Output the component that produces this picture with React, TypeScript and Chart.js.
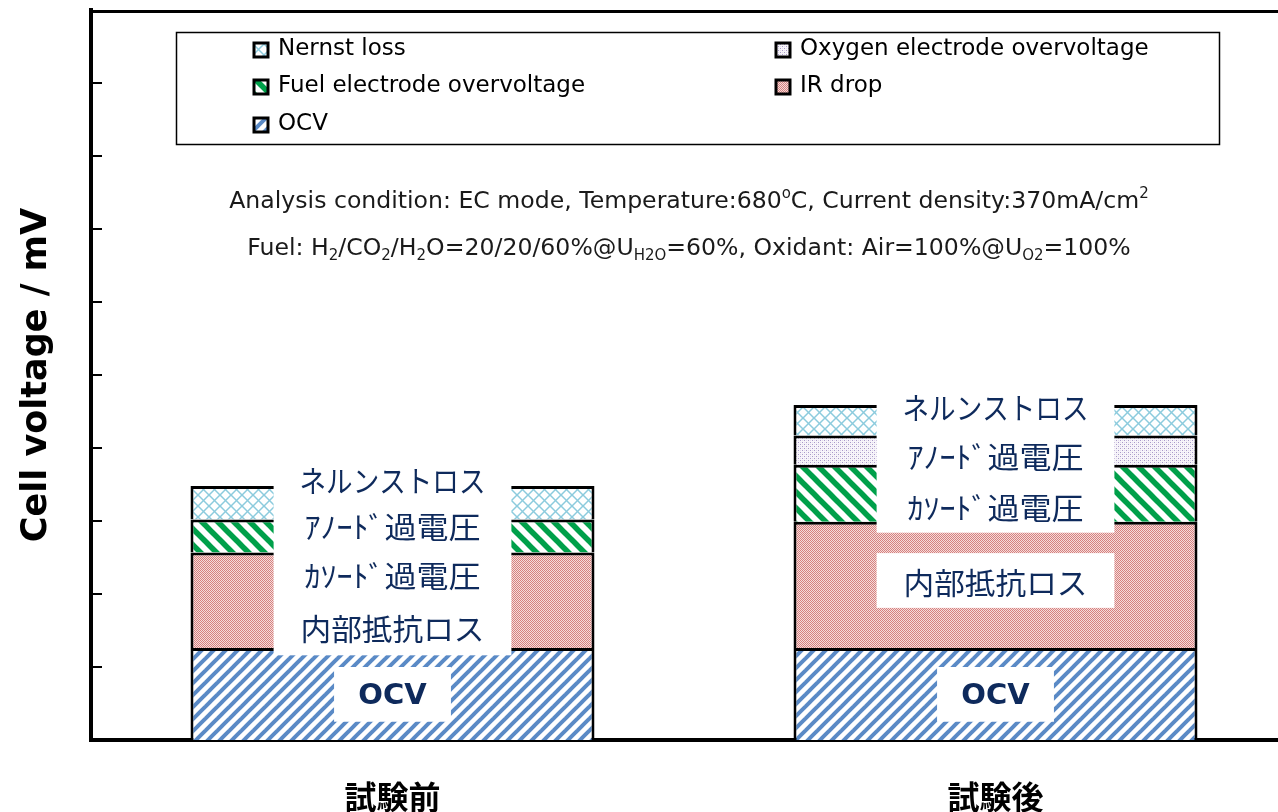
import React, { useEffect, useRef } from "react";
import { Chart, registerables } from "chart.js";

Chart.register(...registerables);

// ---------------- data ----------------
const categories = ["試験前", "試験後"];
const seriesNames = [
  "OCV",
  "IR drop",
  "Fuel electrode overvoltage",
  "Oxygen electrode overvoltage",
  "Nernst loss",
];
const ocvValues = [126, 126];
const irDropValues = [131, 173];
const fuelOverValues = [45, 78];
const oxygenOverValues = [0, 40];
const nernstLossValues = [46, 42];

const yMin = 0;
const yMax = 1000;
const yStep = 100;

const axisTitle = "Cell voltage / mV";
const barLabelLines = ["ネルンストロス", "ｱﾉｰﾄﾞ過電圧", "ｶｿｰﾄﾞ過電圧", "内部抵抗ロス"];
const ocvLabel = "OCV";

type Run = { t: string; sub?: boolean; sup?: boolean };
const conditionLine1: Run[] = [
  { t: "Analysis condition: EC mode, Temperature:680" },
  { t: "o", sup: true },
  { t: "C, Current density:370mA/cm" },
  { t: "2", sup: true },
];
const conditionLine2: Run[] = [
  { t: "Fuel: H" },
  { t: "2", sub: true },
  { t: "/CO" },
  { t: "2", sub: true },
  { t: "/H" },
  { t: "2", sub: true },
  { t: "O=20/20/60%@U" },
  { t: "H2O", sub: true },
  { t: "=60%, Oxidant: Air=100%@U" },
  { t: "O2", sub: true },
  { t: "=100%" },
];

// ---------------- annotation layout (value-space positions) ----------------
const labelLayout = [
  { boxes: [[395, 116]], lineValues: [356, 293, 225, 153] },
  { boxes: [[490, 284], [256, 181]], lineValues: [455, 388, 318, 215] },
];
const labelLineWidths = [186, 176, 176, 184];
const ocvBoxRange = [100, 25];
const ocvTextValue = 60;

// ---------------- patterns ----------------
function tile(size: number, draw: (g: CanvasRenderingContext2D, s: number) => void) {
  const c = document.createElement("canvas");
  c.width = size;
  c.height = size;
  const g = c.getContext("2d")!;
  draw(g, size);
  return c;
}
function rising(g: CanvasRenderingContext2D, s: number) {
  for (const k of [-s, 0, s]) {
    g.beginPath();
    g.moveTo(k - s, 2 * s);
    g.lineTo(k + 2 * s, -s);
    g.stroke();
  }
}
function falling(g: CanvasRenderingContext2D, s: number) {
  for (const k of [-s, 0, s]) {
    g.beginPath();
    g.moveTo(k - s, -s);
    g.lineTo(k + 2 * s, 2 * s);
    g.stroke();
  }
}
function makePatterns(ctx: CanvasRenderingContext2D) {
  const ocv = tile(12, (g, s) => {
    g.fillStyle = "#fff";
    g.fillRect(0, 0, s, s);
    g.strokeStyle = "#5a8ac6";
    g.lineWidth = 4;
    rising(g, s);
  });
  const green = tile(16, (g, s) => {
    g.fillStyle = "#fff";
    g.fillRect(0, 0, s, s);
    g.strokeStyle = "#00a04a";
    g.lineWidth = 5.5;
    falling(g, s);
  });
  const ir = tile(2, (g) => {
    g.fillStyle = "#f5dcdb";
    g.fillRect(0, 0, 2, 2);
    g.fillStyle = "#d6817f";
    g.fillRect(0, 0, 1, 1);
    g.fillRect(1, 1, 1, 1);
  });
  const oxy = tile(4, (g) => {
    g.fillStyle = "#f7f5fa";
    g.fillRect(0, 0, 4, 4);
    g.fillStyle = "#a898c8";
    g.fillRect(0, 0, 1, 1);
    g.fillRect(2, 2, 1, 1);
    g.fillStyle = "#e2dcec";
    g.fillRect(2, 0, 1, 1);
    g.fillRect(0, 2, 1, 1);
  });
  const nernst = tile(11, (g, s) => {
    g.fillStyle = "#fff";
    g.fillRect(0, 0, s, s);
    g.strokeStyle = "#8ccbdd";
    g.lineWidth = 1.5;
    rising(g, s);
    falling(g, s);
  });
  const p = (c: HTMLCanvasElement) => ctx.createPattern(c, "repeat")!;
  return [p(ocv), p(ir), p(green), p(oxy), p(nernst)];
}

function drawRuns(
  ctx: CanvasRenderingContext2D,
  runs: Run[],
  cx: number,
  baseline: number,
  size: number,
  family: string
) {
  const fontFor = (r: Run) => `${r.sub || r.sup ? Math.round(size * 0.62) : size}px ${family}`;
  let total = 0;
  for (const r of runs) {
    ctx.font = fontFor(r);
    total += ctx.measureText(r.t).width;
  }
  let x = cx - total / 2;
  ctx.textAlign = "left";
  ctx.textBaseline = "alphabetic";
  for (const r of runs) {
    ctx.font = fontFor(r);
    const dy = r.sub ? size * 0.22 : r.sup ? -size * 0.42 : 0;
    ctx.fillText(r.t, x, baseline + dy);
    x += ctx.measureText(r.t).width;
  }
}

function makeOverlayPlugin(pats: CanvasPattern[]) {
  return {
    id: "overlay",
    afterDatasetsDraw(chart: any) {
      const ctx: CanvasRenderingContext2D = chart.ctx;
      const y = chart.scales.y;
      const meta = chart.getDatasetMeta(0);
      ctx.save();
      meta.data.forEach((bar: any, i: number) => {
        const cx = bar.x;
        const bw = bar.width;
        const lay = labelLayout[i];
        const boxW = bw * (236 / 401);
        ctx.fillStyle = "#ffffff";
        for (const [top, bottom] of lay.boxes) {
          const yt = y.getPixelForValue(top);
          const yb = y.getPixelForValue(bottom);
          ctx.fillRect(cx - boxW / 2, yt, boxW, yb - yt);
        }
        const ocvW = bw * (116 / 401);
        const ot = y.getPixelForValue(ocvBoxRange[0]);
        const ob = y.getPixelForValue(ocvBoxRange[1]);
        ctx.fillRect(cx - ocvW / 2, ot, ocvW, ob - ot);

        ctx.fillStyle = "#0e2a5c";
        ctx.textAlign = "center";
        ctx.textBaseline = "middle";
        ctx.font = '30px "Noto Sans CJK JP"';
        barLabelLines.forEach((line, k) => {
          const w = ctx.measureText(line).width;
          const sx = labelLineWidths[k] / w;
          ctx.save();
          ctx.translate(cx, y.getPixelForValue(lay.lineValues[k]));
          ctx.scale(sx, 1);
          ctx.fillText(line, 0, 0);
          ctx.restore();
        });
        ctx.font = 'bold 29px "DejaVu Sans"';
        ctx.fillText(ocvLabel, cx, y.getPixelForValue(ocvTextValue));
      });
      ctx.restore();
    },
    afterDraw(chart: any) {
      const ctx: CanvasRenderingContext2D = chart.ctx;
      const area = chart.chartArea;
      const y = chart.scales.y;
      ctx.save();
      // top frame line
      ctx.strokeStyle = "#000";
      ctx.lineWidth = 3;
      ctx.beginPath();
      ctx.moveTo(area.left - 2, area.top + 1.5);
      ctx.lineTo(area.right, area.top + 1.5);
      ctx.stroke();
      // inward ticks
      ctx.lineWidth = 2;
      for (const t of y.ticks) {
        if (t.value <= yMin || t.value >= yMax) continue;
        const py = Math.round(y.getPixelForValue(t.value));
        ctx.beginPath();
        ctx.moveTo(area.left, py);
        ctx.lineTo(area.left + 11, py);
        ctx.stroke();
      }
      // y axis title
      ctx.fillStyle = "#000";
      ctx.font = 'bold 35px "DejaVu Sans"';
      ctx.textAlign = "center";
      ctx.textBaseline = "middle";
      ctx.translate(37, 375);
      ctx.rotate(-Math.PI / 2);
      ctx.fillText(axisTitle, 0, 0);
      ctx.setTransform(1, 0, 0, 1, 0, 0);

      // legend box
      ctx.lineWidth = 1.5;
      ctx.strokeStyle = "#000";
      ctx.strokeRect(176.5, 32.5, 1043, 112);
      const order = [4, 3, 2, 1, 0];
      const colX = [254, 776];
      const rowY = [50, 87, 125];
      ctx.font = '23px "DejaVu Sans"';
      ctx.textAlign = "left";
      ctx.textBaseline = "middle";
      order.forEach((di, k) => {
        const col = k % 2;
        const row = Math.floor(k / 2);
        const sx = colX[col];
        const sy = rowY[row] - 7;
        ctx.fillStyle = pats[di];
        ctx.fillRect(sx, sy, 14, 14);
        ctx.strokeStyle = "#000";
        ctx.lineWidth = 3;
        ctx.strokeRect(sx, sy, 14, 14);
        ctx.fillStyle = "#000";
        ctx.fillText(seriesNames[di], sx + 24, rowY[row] - 1);
      });

      // condition text
      ctx.fillStyle = "#1a1a1a";
      drawRuns(ctx, conditionLine1, 689, 208, 23.6, '"DejaVu Sans"');
      drawRuns(ctx, conditionLine2, 689, 255, 23.6, '"DejaVu Sans"');
      ctx.restore();
    },
  };
}

export default function App() {
  const ref = useRef<HTMLCanvasElement>(null);
  useEffect(() => {
    const canvas = ref.current!;
    const ctx = canvas.getContext("2d")!;
    const pats = makePatterns(ctx);
    const valueSets = [ocvValues, irDropValues, fuelOverValues, oxygenOverValues, nernstLossValues];
    const chart = new Chart(canvas, {
      type: "bar",
      data: {
        labels: categories,
        datasets: valueSets.map((vals, i) => ({
          label: seriesNames[i],
          data: vals,
          backgroundColor: pats[i],
          borderColor: "#000",
          borderWidth: 3,
          borderSkipped: "start",
          categoryPercentage: 1,
          barPercentage: 0.67,
        })),
      },
      options: {
        responsive: false,
        animation: false,
        layout: { padding: { top: 10, left: 0, right: 0, bottom: 0 } },
        plugins: { legend: { display: false }, tooltip: { enabled: false }, title: { display: false } },
        scales: {
          x: {
            stacked: true,
            grid: { display: false, drawTicks: false },
            border: { display: true, color: "#000", width: 4 },
            ticks: {
              color: "#000",
              padding: 38,
              font: { family: '"Noto Sans CJK JP"', size: 32, weight: "bold" },
            },
            afterFit: (s: any) => {
              s.height = 72;
            },
          },
          y: {
            stacked: true,
            min: yMin,
            max: yMax,
            ticks: { display: false, stepSize: yStep },
            grid: { display: false, drawTicks: false },
            border: { display: true, color: "#000", width: 4 },
            afterFit: (s: any) => {
              s.width = 91;
            },
          },
        },
      },
      plugins: [makeOverlayPlugin(pats)],
    } as any);
    return () => chart.destroy();
  }, []);
  return (
    <div
      style={{
        position: "fixed",
        left: 0,
        top: 0,
        width: 1278,
        height: 812,
        overflow: "hidden",
        background: "#fff",
      }}
    >
      <canvas ref={ref} width={1297} height={812} style={{ width: 1297, height: 812, display: "block" }} />
    </div>
  );
}
